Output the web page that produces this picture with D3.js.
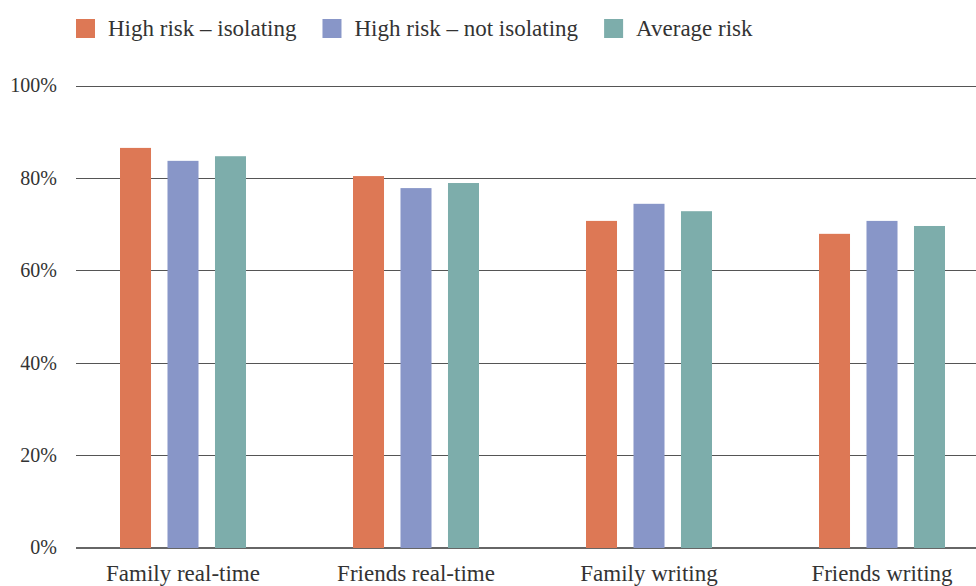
<!DOCTYPE html>
<html>
<head>
<meta charset="utf-8">
<script src="https://cdn.jsdelivr.net/npm/d3@7"></script>
<style>
  html, body { margin: 0; padding: 0; background: #fff; }
  svg { display: block; }
  text { font-family: "Liberation Serif", "DejaVu Serif", serif; fill: #333; }
</style>
</head>
<body>
<svg id="chart" width="976" height="586"></svg>
<script>
// Share of respondents in contact, by channel and risk group
const categories = ["Family real-time", "Friends real-time", "Family writing", "Friends writing"];
const seriesNames = ["High risk – isolating", "High risk – not isolating", "Average risk"];
const highRiskIsolating    = [86.6, 80.5, 70.8, 68.0];
const highRiskNotIsolating = [83.8, 77.9, 74.5, 70.8];
const averageRisk          = [84.8, 79.0, 72.9, 69.7];
const yTicks = [0, 20, 40, 60, 80, 100];
const colors = ["#DD7855", "#8896C8", "#7DADAB"];

const seriesValues = [highRiskIsolating, highRiskNotIsolating, averageRisk];

const svg = d3.select("#chart");
const width = 976, height = 586;
const plotLeft = 76, plotTop = 86, plotBottom = 548;

const y = d3.scaleLinear().domain([0, 100]).range([plotBottom, plotTop]);
const x = d3.scaleBand().domain(categories).range([66.5, 998.5]).padding(0);
const inner = d3.scaleBand().domain(seriesNames).range([-63, 63]).paddingInner(0.347).paddingOuter(0);

// Gridlines and y tick labels
const grid = svg.append("g");
grid.selectAll("line")
  .data(yTicks)
  .join("line")
  .attr("x1", plotLeft).attr("x2", width)
  .attr("y1", d => y(d)).attr("y2", d => y(d))
  .attr("stroke", d => d === 0 ? "#666" : "#555")
  .attr("stroke-width", d => d === 0 ? 1.6 : 1)
  .attr("shape-rendering", "crispEdges");
grid.selectAll("text")
  .data(yTicks)
  .join("text")
  .attr("x", 57)
  .attr("y", d => y(d))
  .attr("dy", "0.32em")
  .attr("text-anchor", "end")
  .attr("font-size", 20)
  .text(d => d + "%");

// Bars
const groups = svg.append("g").selectAll("g")
  .data(categories)
  .join("g")
  .attr("transform", c => `translate(${x(c) + x.bandwidth() / 2},0)`);

groups.selectAll("rect")
  .data((c, i) => seriesNames.map((s, k) => ({ series: s, k, value: seriesValues[k][i] })))
  .join("rect")
  .attr("x", d => inner(d.series))
  .attr("width", inner.bandwidth())
  .attr("y", d => y(d.value))
  .attr("height", d => y(0) - y(d.value))
  .attr("fill", d => colors[d.k]);

// Category labels
svg.append("g").selectAll("text")
  .data(categories)
  .join("text")
  .attr("x", c => x(c) + x.bandwidth() / 2)
  .attr("y", 581)
  .attr("text-anchor", "middle")
  .attr("font-size", 23)
  .text(c => c);

// Legend
const legend = svg.append("g");
let lx = 76;
seriesNames.forEach((name, k) => {
  legend.append("rect")
    .attr("x", lx).attr("y", 19)
    .attr("width", 19).attr("height", 19)
    .attr("fill", colors[k]);
  const t = legend.append("text")
    .attr("x", lx + 32).attr("y", 36)
    .attr("font-size", 23)
    .text(name);
  lx += 32 + t.node().getComputedTextLength() + 26;
});
</script>
</body>
</html>
